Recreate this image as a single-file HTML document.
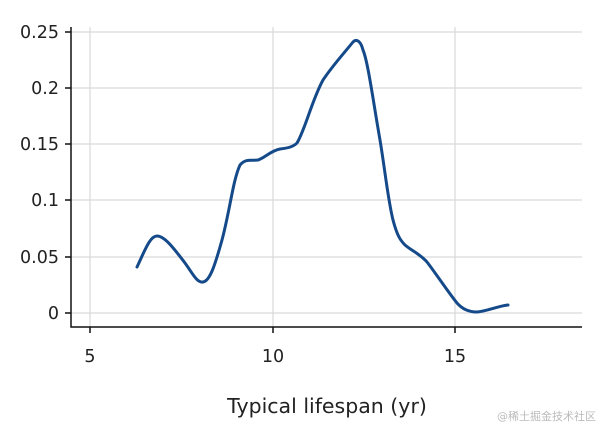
<!DOCTYPE html>
<html><head><style>body{margin:0;background:#fff}svg{display:block}text{font-family:"DejaVu Sans",sans-serif;fill:#222}</style></head>
<body>
<svg width="600" height="428" viewBox="0 0 600 428">
<g stroke="#d9d9d9" stroke-width="1.2">
<line x1="71" y1="32" x2="582" y2="32"/><line x1="71" y1="88" x2="582" y2="88"/><line x1="71" y1="144" x2="582" y2="144"/><line x1="71" y1="200" x2="582" y2="200"/><line x1="71" y1="257" x2="582" y2="257"/><line x1="71" y1="313" x2="582" y2="313"/>
<line x1="90" y1="27" x2="90" y2="327"/><line x1="273" y1="27" x2="273" y2="327"/><line x1="455" y1="27" x2="455" y2="327"/>
</g>
<g stroke="#111" stroke-width="1.5" fill="none">
<polyline points="71,27 71,327 582,327"/>
<line x1="65" y1="32" x2="71" y2="32"/><line x1="65" y1="88" x2="71" y2="88"/><line x1="65" y1="144" x2="71" y2="144"/><line x1="65" y1="200" x2="71" y2="200"/><line x1="65" y1="257" x2="71" y2="257"/><line x1="65" y1="313" x2="71" y2="313"/>
<line x1="90" y1="327" x2="90" y2="333"/><line x1="273" y1="327" x2="273" y2="333"/><line x1="455" y1="327" x2="455" y2="333"/>
</g>
<g font-size="17.5" text-anchor="end">
<text x="59" y="38">0.25</text><text x="59" y="94">0.2</text><text x="59" y="150">0.15</text><text x="59" y="206">0.1</text><text x="59" y="263">0.05</text><text x="59" y="319">0</text>
</g>
<g font-size="17.5" text-anchor="middle">
<text x="90" y="362">5</text><text x="273" y="362">10</text><text x="455" y="362">15</text>
<text x="327" y="413" font-size="20.5">Typical lifespan (yr)</text>
</g>
<text x="596" y="420" font-size="11" text-anchor="end" style="fill:#bbb">@稀土掘金技术社区</text>
<path d="M137,267 C145,250 150,236 157,236 C165,236 175,250 185,263 C193,274 197,283 203,282 C210,281 215,265 222,240 C230,210 233,180 240,165 C246,158 252,161 258,160 C265,158 270,151 280,149 C288,148 293,147 297,143 C305,130 312,100 323,80 C333,65 345,52 353,42 C357,38 361,42 363,50 C368,62 373,100 380,140 C385,170 388,200 393,220 C397,235 400,240 405,245 C412,251 420,254 427,262 C437,275 448,292 457,303 C463,310 470,312 477,312 C488,311 498,306 508,305" fill="none" stroke="#154a8a" stroke-width="3" stroke-linecap="round"/>
</svg>
</body></html>
